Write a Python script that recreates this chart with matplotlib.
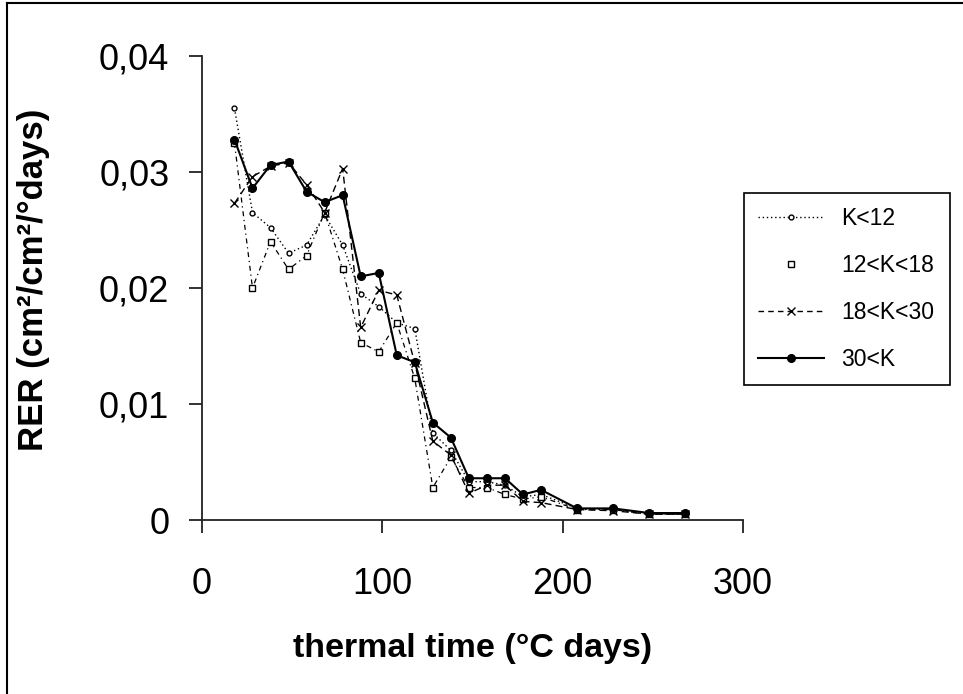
import matplotlib
matplotlib.use("Agg")
import matplotlib.pyplot as plt
import matplotlib.ticker as ticker
from matplotlib.lines import Line2D

plt.rcParams["font.family"] = ["Liberation Sans", "DejaVu Sans"]

# thermal time (°C days)
tt = [18, 28, 38, 48, 58, 68, 78, 88, 98, 108, 118, 128, 138, 148, 158, 168,
      178, 188, 208, 228, 248, 268]

rer_k12 = [0.0355, 0.0265, 0.0252, 0.0230, 0.0237, 0.0263, 0.0237, 0.0195,
           0.0184, 0.0170, 0.0165, 0.0075, 0.0060, 0.0033, 0.0033, 0.0030,
           0.0020, 0.0022, 0.0010, 0.0009, 0.0005, 0.0005]
rer_k12_18 = [0.0325, 0.0200, 0.0240, 0.0216, 0.0228, 0.0265, 0.0216, 0.0153,
              0.0145, 0.0170, 0.0122, 0.0028, 0.0054, 0.0028, 0.0028, 0.0022,
              0.0018, 0.0020, 0.0009, 0.0009, 0.0005, 0.0005]
rer_k18_30 = [0.0273, 0.0296, 0.0305, 0.0308, 0.0289, 0.0265, 0.0303, 0.0166,
              0.0198, 0.0194, 0.0135, 0.0068, 0.0056, 0.0023, 0.0030, 0.0030,
              0.0016, 0.0015, 0.0009, 0.0008, 0.0005, 0.0005]
rer_k30 = [0.0328, 0.0286, 0.0306, 0.0309, 0.0283, 0.0274, 0.0280, 0.0210,
           0.0213, 0.0142, 0.0136, 0.0084, 0.0071, 0.0036, 0.0036, 0.0036,
           0.0022, 0.0026, 0.0010, 0.0010, 0.0006, 0.0006]

labels = ["K<12", "12<K<18", "18<K<30", "30<K"]

fig = plt.figure(figsize=(9.63, 6.94), dpi=100)
fig.patch.set_facecolor("white")
ax = fig.add_axes([202 / 963, 1 - 520 / 694, 541 / 963, 464 / 694])

ax.plot(tt, rer_k12, color="black", ls=(0, (1, 2)), lw=1.0,
        marker="o", ms=3.5, mfc="white", mec="black", mew=1.0)
ax.plot(tt, rer_k12_18, color="black", ls=(0, (4, 3, 1, 3)), lw=0.9,
        marker="s", ms=4, mfc="white", mec="black", mew=1.0)
ax.plot(tt, rer_k18_30, color="black", ls=(0, (5, 3)), lw=1.0,
        marker="x", ms=6, mew=1.0)
ax.plot(tt, rer_k30, color="black", ls="-", lw=1.5,
        marker="o", ms=5.5, mfc="black", mec="black")

ax.set_xlim(0, 300)
ax.set_ylim(0, 0.04)
ax.xaxis.set_major_locator(ticker.MultipleLocator(100))
ax.yaxis.set_major_locator(ticker.MultipleLocator(0.01))
ax.yaxis.set_major_formatter(ticker.FuncFormatter(
    lambda v, _: "0" if abs(v) < 1e-9 else f"{v:.2f}".replace(".", ",")))

for side in ["top", "right"]:
    ax.spines[side].set_visible(False)
for side in ["left", "bottom"]:
    ax.spines[side].set_linewidth(1.3)
    ax.spines[side].set_color("#222222")
ax.tick_params(axis="both", direction="out", length=9.5, width=1.3,
               colors="#222222", labelcolor="black", labelsize=26)
ax.tick_params(axis="y", pad=14)
ax.tick_params(axis="x", pad=24)

ax.set_ylabel("RER (cm²/cm²/°days)", fontsize=25, fontweight="bold",
              va="center")
ax.yaxis.set_label_coords(-0.312, 0.517)
ax.set_xlabel("thermal time (°C days)", fontsize=24.5, fontweight="bold",
              va="center")
ax.xaxis.set_label_coords(0.5, -0.276)

handles = [
    Line2D([], [], color="black", ls=(0, (1, 2)), lw=1.0, marker="o", ms=3.5,
           mfc="white", mec="black"),
    Line2D([], [], color="black", ls="none", marker="s", ms=4,
           mfc="white", mec="black"),
    Line2D([], [], color="black", ls=(0, (4, 3)), lw=1.0, marker="x", ms=6),
    Line2D([], [], color="black", ls="-", lw=1.5, marker="o", ms=5.5,
           mfc="black"),
]
leg = fig.legend(handles, labels, loc="upper left", mode="expand",
                 bbox_to_anchor=(744 / 963, 0, 206 / 963, 1 - 193 / 694),
                 fontsize=16.5, frameon=True, fancybox=False, framealpha=1,
                 edgecolor="black", handlelength=2.9, handletextpad=0.75,
                 borderpad=0.6, labelspacing=1.05, borderaxespad=0)
leg.get_frame().set_linewidth(1.2)

# outer frame of the original picture
fig.add_artist(Line2D([0.007, 1.0], [0.996, 0.996], transform=fig.transFigure,
                      color="black", lw=1.5))
fig.add_artist(Line2D([0.007, 0.007], [0.0, 0.996], transform=fig.transFigure,
                      color="black", lw=1.5))

fig.savefig("out.png", dpi=100, facecolor="white")
